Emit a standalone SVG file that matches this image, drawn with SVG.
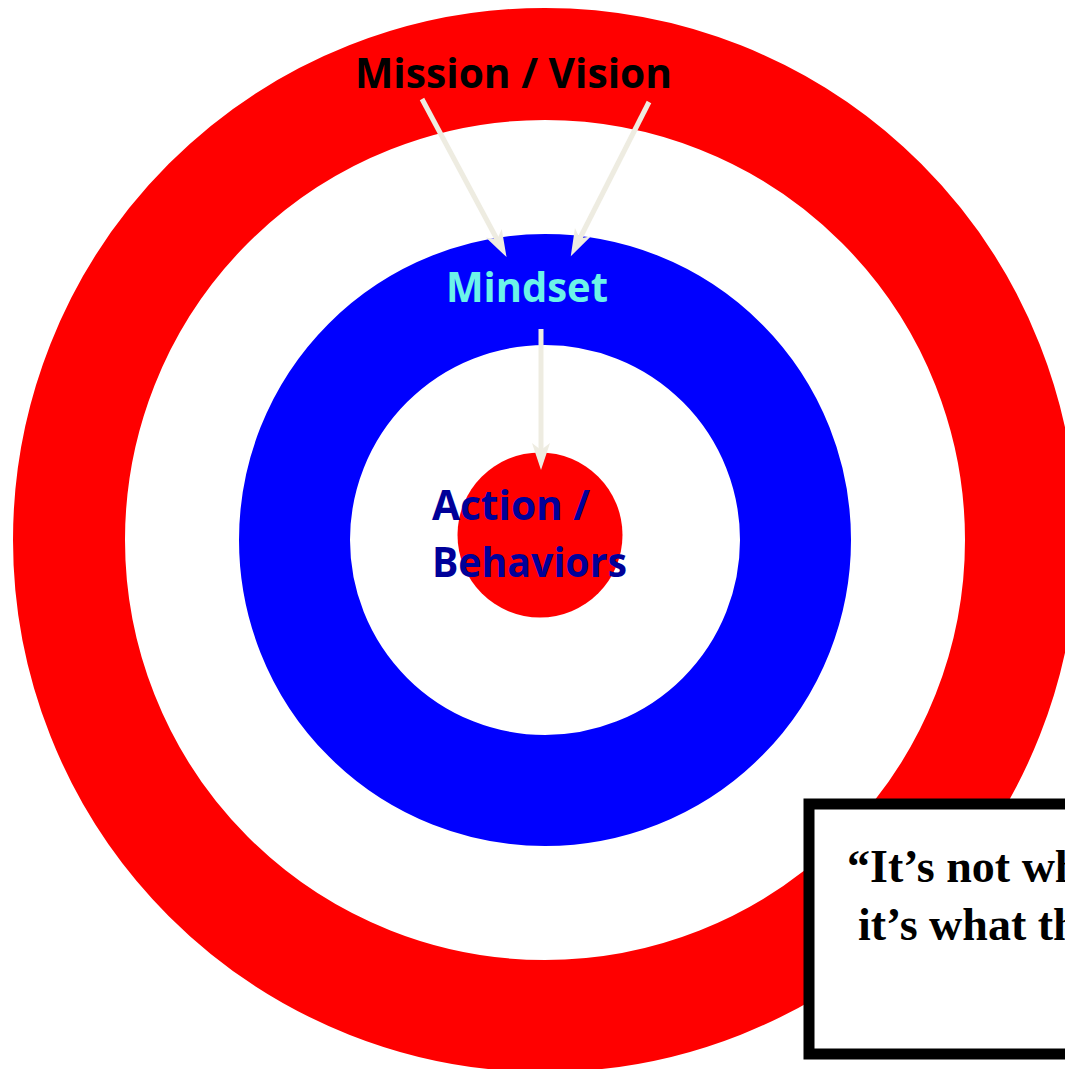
<svg xmlns="http://www.w3.org/2000/svg" width="1065" height="1069" viewBox="0 0 1065 1069">
<defs>
<style>
.lbl{font-family:"Open Sans","Noto Sans",sans-serif;font-weight:bold;font-size:42px}
.q{font-family:"Liberation Serif","Times New Roman",serif;font-weight:bold;font-size:46px;fill:#000}
.arr{stroke:#EEECE1;stroke-width:5;fill:none}
</style>
<marker id="ah" markerUnits="userSpaceOnUse" markerWidth="34" markerHeight="22" viewBox="-14 -11 34 22" refX="0" refY="0" orient="auto">
<path d="M16,0 L-11,-9 L-4,0 L-11,9 Z" fill="#EEECE1"/>
</marker>
</defs>
<rect width="1065" height="1069" fill="#fff"/>
<g id="ring-outer"><circle cx="545" cy="540" r="476" fill="none" stroke="#FF0000" stroke-width="112"/></g>
<g id="ring-mid"><circle cx="545" cy="540" r="250.5" fill="none" stroke="#0000FF" stroke-width="111"/></g>
<g id="core"><circle cx="540" cy="535" r="82.5" fill="#FF0000"/></g>
<g id="connectors">
<line class="arr" x1="422" y1="99" x2="499" y2="243" marker-end="url(#ah)"/>
<line class="arr" x1="649" y1="102" x2="578" y2="242" marker-end="url(#ah)"/>
<line class="arr" x1="541" y1="329" x2="541" y2="454" marker-end="url(#ah)"/>
</g>
<g id="mission"><text class="lbl" x="355" y="88" textLength="317" lengthAdjust="spacingAndGlyphs" fill="#000">Mission / Vision</text></g>
<g id="mindset"><text class="lbl" x="446" y="302" textLength="162" lengthAdjust="spacingAndGlyphs" fill="#6CF3E8">Mindset</text></g>
<g id="action"><text class="lbl" fill="#000099"><tspan x="432" y="520" textLength="158" lengthAdjust="spacingAndGlyphs">Action /</tspan><tspan x="432" y="577" textLength="195" lengthAdjust="spacingAndGlyphs">Behaviors</tspan></text></g>
<g id="quote">
<rect x="809" y="804" width="300" height="250" fill="#fff" stroke="#000" stroke-width="11"/>
<text class="q" x="847" y="882">“It’s not wh</text>
<text class="q" x="858" y="940">it’s what th</text>
</g>
</svg>
